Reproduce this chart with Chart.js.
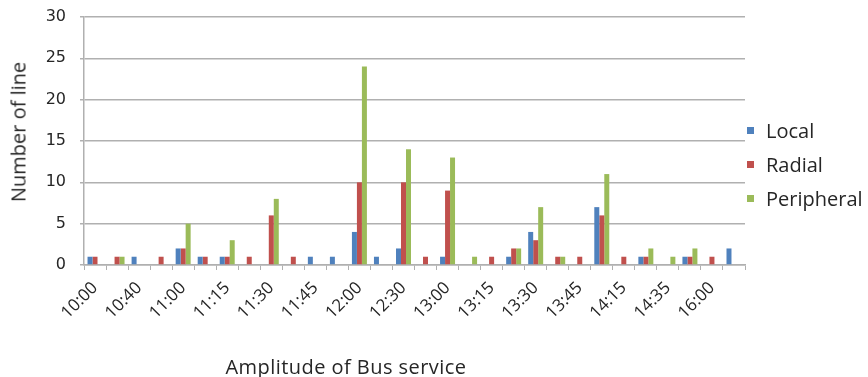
<!DOCTYPE html>
<html>
<head>
<meta charset="utf-8">
<script src="https://cdn.jsdelivr.net/npm/chart.js@4/dist/chart.umd.min.js"></script>
<style>
  html, body { margin: 0; padding: 0; background: #ffffff; }
  #wrap { position: relative; width: 868px; height: 377px; }
  #chart { position: absolute; left: 0; top: 0; }
  #legend { position: absolute; left: 747px; top: 113px; font-family: "Open Sans", sans-serif; font-size: 20px; color: #262626; }
  #legend .item { height: 34px; display: flex; align-items: center; }
  #legend .sw { width: 7px; height: 7px; margin-right: 12px; }
  .axis-title { position: absolute; white-space: nowrap; font-family: "Open Sans", sans-serif; font-size: 20px; color: #262626; }
  #xtitle { left: 346px; top: 366px; transform: translate(-50%, -50%); letter-spacing: 0.45px; }
  #ytitle { left: 18px; top: 132px; transform: translate(-50%, -50%) rotate(-90deg); }
</style>
</head>
<body>
<div id="wrap">
  <canvas id="chart" width="868" height="377"></canvas>
  <div id="legend"></div>
  <div id="xtitle" class="axis-title">Amplitude of Bus service</div>
  <div id="ytitle" class="axis-title">Number of line</div>
</div>
<script>
// Departure times (every other one is printed on the axis)
const categories = [
  '10:00', '10:20', '10:40', '10:50', '11:00', '11:10', '11:15', '11:20',
  '11:30', '11:40', '11:45', '11:50', '12:00', '12:15', '12:30', '12:45',
  '13:00', '13:10', '13:15', '13:20', '13:30', '13:40', '13:45', '14:00',
  '14:15', '14:30', '14:35', '15:00', '16:00', '16:30'
];
const seriesNames = ['Local', 'Radial', 'Peripheral'];
const localLines      = [1,0,1,0,2,1,1,0,0,0,1,1,4,1,2,0,1,0,0,1,4,0,0,7,0,1,0,1,0,2];
const radialLines     = [1,1,0,1,2,1,1,1,6,1,0,0,10,0,10,1,9,0,1,2,3,1,1,6,1,1,0,1,1,0];
const peripheralLines = [0,1,0,0,5,0,3,0,8,0,0,0,24,0,14,0,13,1,0,2,7,1,0,11,0,2,1,2,0,0];
const yTicks = [0, 5, 10, 15, 20, 25, 30];
const colors = ['#4F81BD', '#C0504D', '#9BBB59'];

const seriesValues = [localLines, radialLines, peripheralLines];
const datasets = seriesNames.map((name, i) => ({
  label: name,
  data: seriesValues[i],
  backgroundColor: colors[i],
  borderWidth: 0,
  barPercentage: 1.0,
  categoryPercentage: 0.68
}));

const gridGray = '#B0B0B0';

// Fixed plot box: axis sizes are set explicitly, label overhang is not reserved
function clearPadding(scale) {
  scale.paddingTop = 0; scale.paddingBottom = 0;
  scale.paddingLeft = 0; scale.paddingRight = 0;
}

new Chart(document.getElementById('chart'), {
  type: 'bar',
  data: { labels: categories, datasets: datasets },
  options: {
    responsive: false,
    animation: false,
    layout: { padding: { top: 17, right: 123, left: 0, bottom: 0 } },
    plugins: { legend: { display: false }, tooltip: { enabled: false } },
    scales: {
      x: {
        offset: true,
        grid: { display: true, drawOnChartArea: false, drawTicks: true, tickLength: 5, color: gridGray, offset: true, lineWidth: 1 },
        border: { display: true, color: gridGray, width: 1.5 },
        ticks: {
          autoSkip: false, maxRotation: 45, minRotation: 45, padding: 8,
          color: '#262626',
          font: { family: '"Open Sans", sans-serif', size: 17 },
          callback: function (value, index) { return index % 2 === 0 ? categories[index] : ''; }
        },
        afterCalculateLabelRotation: function (scale) { scale.labelRotation = 45; },
        afterFit: function (scale) { scale.height = 112; clearPadding(scale); }
      },
      y: {
        min: 0, max: 30,
        afterBuildTicks: function (scale) { scale.ticks = yTicks.map(v => ({ value: v })); },
        grid: { color: gridGray, lineWidth: 1.5, tickLength: 4 },
        border: { display: true, color: gridGray, width: 1.5 },
        ticks: {
          color: '#262626', padding: 14,
          font: { family: '"DejaVu Sans", sans-serif', size: 16 }
        },
        afterFit: function (scale) { scale.width = 84; clearPadding(scale); }
      }
    }
  }
});

// Legend entries beside the plot
const legend = document.getElementById('legend');
seriesNames.forEach((name, i) => {
  const item = document.createElement('div');
  item.className = 'item';
  const sw = document.createElement('span');
  sw.className = 'sw';
  sw.style.background = colors[i];
  const txt = document.createElement('span');
  txt.textContent = name;
  item.appendChild(sw);
  item.appendChild(txt);
  legend.appendChild(item);
});
</script>
</body>
</html>
